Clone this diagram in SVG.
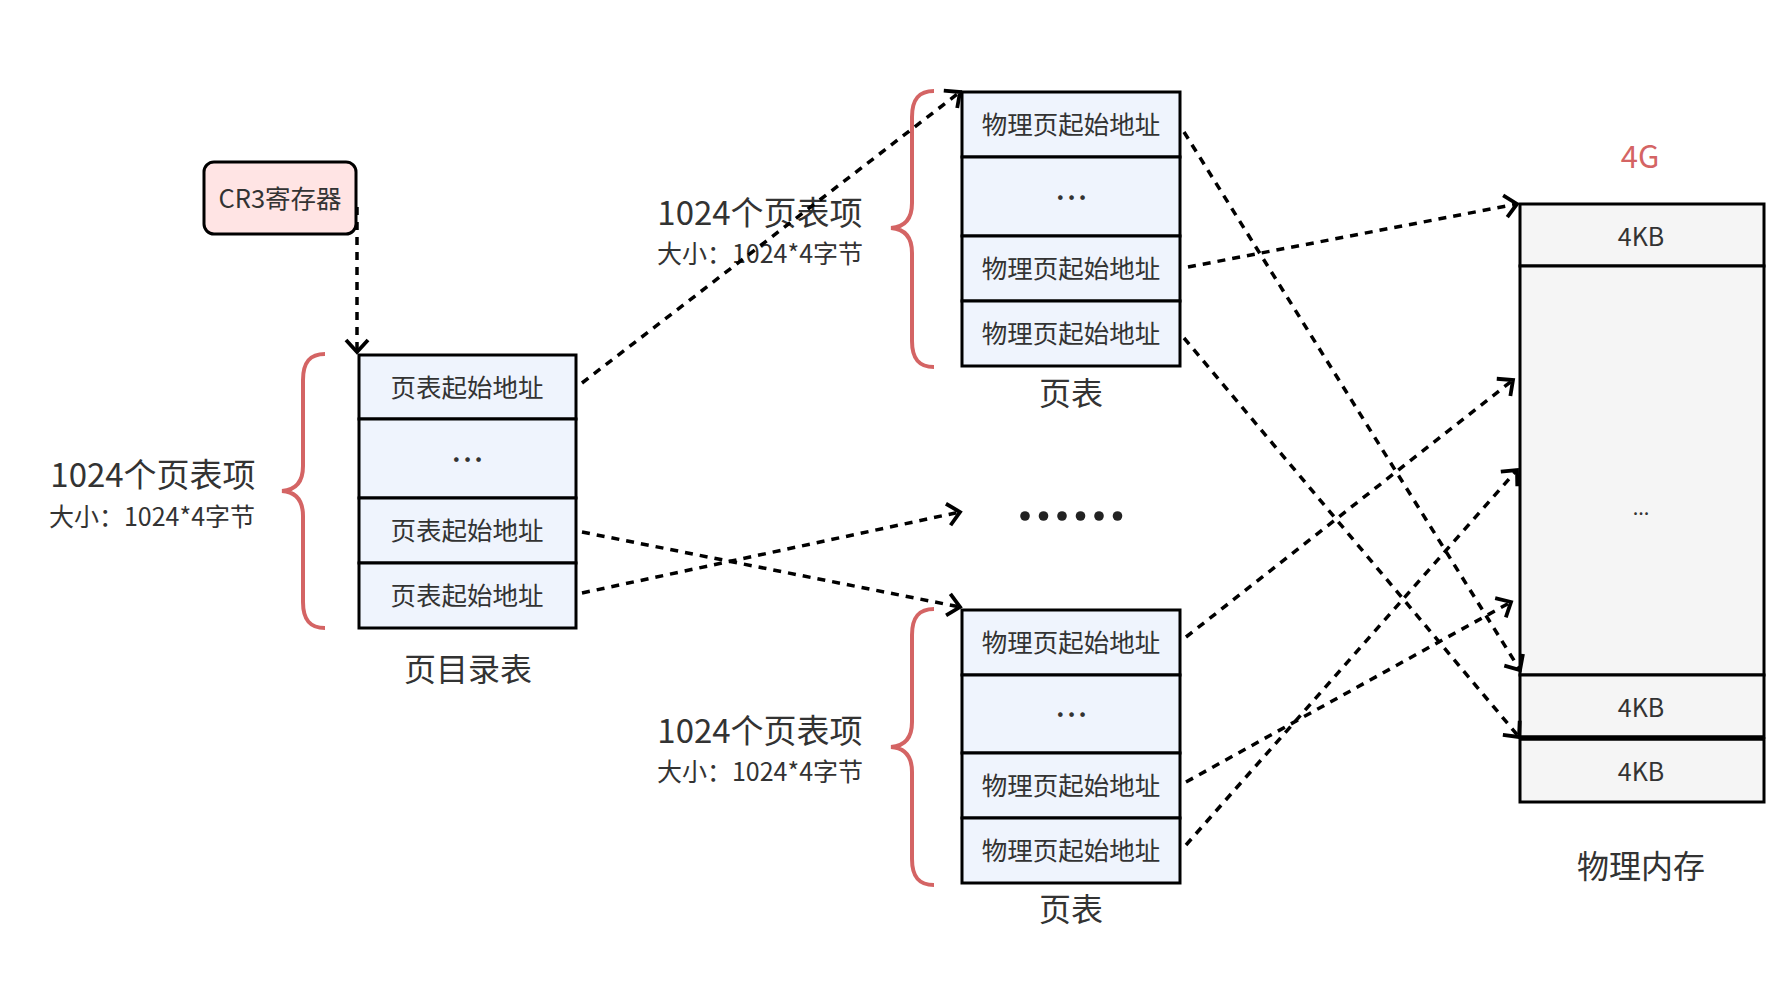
<svg xmlns="http://www.w3.org/2000/svg" width="1780" height="993" viewBox="0 0 1780 993">
<style>
text{font-family:"Noto Sans CJK SC","Noto Sans",sans-serif;fill:#333;text-anchor:middle}
.cell{fill:#eff4fd;stroke:#000;stroke-width:3}
.mem{fill:#f5f5f5;stroke:#000;stroke-width:3}
.t25{font-size:25.5px}
.t24{font-size:25px}
.t32{font-size:33px}
.t32b{font-size:32px}
.dots{font-size:25px;font-weight:bold;letter-spacing:3px}
.brace{fill:none;stroke:#d46464;stroke-width:4}
.conn{fill:none;stroke:#000;stroke-width:3.5;stroke-dasharray:8 7}
</style>
<defs>
<marker id="arr" markerUnits="userSpaceOnUse" markerWidth="30" markerHeight="30" viewBox="-15 -15 30 30" refX="0" refY="0" orient="auto">
<path d="M-12,-11 L0,0 L-12,11" fill="none" stroke="#000" stroke-width="3.8" stroke-dasharray="none"/>
</marker>
</defs>
<rect width="1780" height="993" fill="#fff"/>

<g id="cr3">
<rect x="204" y="162" width="152" height="72" rx="10" fill="#ffe4e4" stroke="#000" stroke-width="3"/>
<text x="280" y="208" class="t25">CR3寄存器</text>
</g>

<g id="page-directory">
<rect class="cell" x="359" y="355" width="217" height="64"/>
<rect class="cell" x="359" y="419" width="217" height="79"/>
<rect class="cell" x="359" y="498" width="217" height="65"/>
<rect class="cell" x="359" y="563" width="217" height="65"/>
<text x="467" y="397" class="t25">页表起始地址</text>
<text x="469" y="462" class="dots">...</text>
<text x="467" y="540" class="t25">页表起始地址</text>
<text x="467" y="605" class="t25">页表起始地址</text>
<text x="468" y="681" class="t32b">页目录表</text>
</g>

<g id="pd-brace">
<path class="brace" d="M325,354 C310,354 303,362 303,380 L303,466 C303,482 296,490 282,491 C296,492 303,500 303,516 L303,602 C303,620 310,628 325,628"/>
<text x="153" y="487" class="t32">1024个页表项</text>
<text x="152" y="526" class="t24">大小：1024*4字节</text>
</g>

<g id="page-table-1">
<rect class="cell" x="962" y="92" width="218" height="65"/>
<rect class="cell" x="962" y="157" width="218" height="79"/>
<rect class="cell" x="962" y="236" width="218" height="65"/>
<rect class="cell" x="962" y="301" width="218" height="65"/>
<text x="1071" y="134" class="t25">物理页起始地址</text>
<text x="1073" y="200" class="dots">...</text>
<text x="1071" y="278" class="t25">物理页起始地址</text>
<text x="1071" y="343" class="t25">物理页起始地址</text>
<text x="1071" y="405" class="t32b">页表</text>
</g>

<g id="pt1-brace">
<path class="brace" d="M934,91 C919,91 912,99 912,117 L912,203 C912,219 905,227 891,228 C905,229 912,237 912,253 L912,341 C912,359 919,367 934,367"/>
<text x="760" y="225" class="t32">1024个页表项</text>
<text x="760" y="263" class="t24">大小：1024*4字节</text>
</g>

<g id="page-table-2">
<rect class="cell" x="962" y="610" width="218" height="65"/>
<rect class="cell" x="962" y="675" width="218" height="78"/>
<rect class="cell" x="962" y="753" width="218" height="65"/>
<rect class="cell" x="962" y="818" width="218" height="65"/>
<text x="1071" y="652" class="t25">物理页起始地址</text>
<text x="1073" y="717" class="dots">...</text>
<text x="1071" y="795" class="t25">物理页起始地址</text>
<text x="1071" y="860" class="t25">物理页起始地址</text>
<text x="1071" y="921" class="t32b">页表</text>
</g>

<g id="pt2-brace">
<path class="brace" d="M934,609 C919,609 912,617 912,635 L912,722 C912,738 905,746 891,747 C905,748 912,756 912,772 L912,859 C912,877 919,885 934,885"/>
<text x="760" y="743" class="t32">1024个页表项</text>
<text x="760" y="781" class="t24">大小：1024*4字节</text>
</g>

<g id="ellipsis" fill="#222">
<circle cx="1025" cy="516" r="4.8"/>
<circle cx="1043.5" cy="516" r="4.8"/>
<circle cx="1062" cy="516" r="4.8"/>
<circle cx="1080.5" cy="516" r="4.8"/>
<circle cx="1099" cy="516" r="4.8"/>
<circle cx="1117.5" cy="516" r="4.8"/>
</g>

<g id="physical-memory">
<rect class="mem" x="1520" y="204" width="244" height="62"/>
<rect class="mem" x="1520" y="266" width="244" height="409"/>
<rect class="mem" x="1520" y="675" width="244" height="62"/>
<rect class="mem" x="1520" y="739" width="244" height="63"/>
<line x1="1520" y1="738" x2="1764" y2="738" stroke="#000" stroke-width="5"/>
<text x="1641" y="246" class="t24">4KB</text>
<text x="1641" y="515" style="font-size:20px">...</text>
<text x="1641" y="717" class="t24">4KB</text>
<text x="1641" y="781" class="t24">4KB</text>
<text x="1640" y="168" style="font-size:31px;fill:#d46464">4G</text>
<text x="1641" y="878" class="t32b">物理内存</text>
</g>

<g id="connectors">
<line class="conn" x1="357" y1="207" x2="357" y2="352" marker-end="url(#arr)"/>
<line class="conn" x1="582" y1="383" x2="960" y2="92" marker-end="url(#arr)"/>
<line class="conn" x1="582" y1="532" x2="960" y2="607" marker-end="url(#arr)"/>
<line class="conn" x1="582" y1="593" x2="960" y2="512" marker-end="url(#arr)"/>
<line class="conn" x1="1184" y1="132" x2="1520" y2="670" marker-end="url(#arr)"/>
<line class="conn" x1="1188" y1="267" x2="1517" y2="204" marker-end="url(#arr)"/>
<line class="conn" x1="1184" y1="338" x2="1519" y2="737" marker-end="url(#arr)"/>
<line class="conn" x1="1186" y1="637" x2="1513" y2="380" marker-end="url(#arr)"/>
<line class="conn" x1="1186" y1="782" x2="1511" y2="602" marker-end="url(#arr)"/>
<line class="conn" x1="1186" y1="845" x2="1517" y2="470" marker-end="url(#arr)"/>
</g>
</svg>
